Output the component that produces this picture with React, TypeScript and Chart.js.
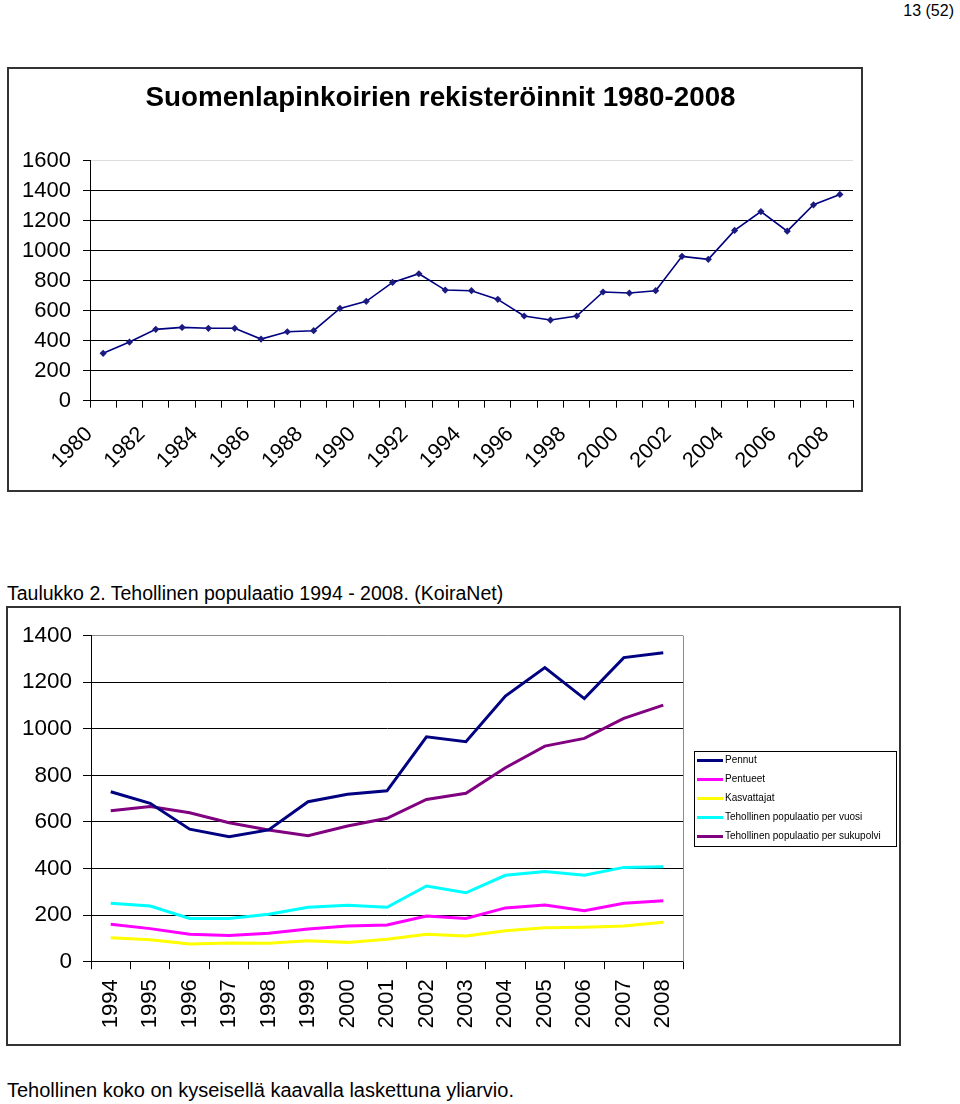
import React, { useEffect, useRef } from 'react';
import { Chart, registerables } from 'chart.js';

Chart.register(...registerables);

const FONT = '"Liberation Sans", Arial, Helvetica, sans-serif';

// ---- Chart 1: registrations 1980-2008 ----
const regTitle = 'Suomenlapinkoirien rekisteröinnit 1980-2008';
const regYears = [
  '1980', '1981', '1982', '1983', '1984', '1985', '1986', '1987', '1988', '1989',
  '1990', '1991', '1992', '1993', '1994', '1995', '1996', '1997', '1998', '1999',
  '2000', '2001', '2002', '2003', '2004', '2005', '2006', '2007', '2008',
];
const registrations = [
  316, 391, 476, 489, 483, 483, 411, 460, 467, 616,
  663, 789, 847, 738, 734, 676, 565, 538, 565, 725,
  718, 734, 963, 943, 1136, 1262, 1131, 1307, 1376,
];
const regYMax = 1600;
const regYStep = 200;

// ---- Chart 2: effective population 1994-2008 ----
const popYears = [
  '1994', '1995', '1996', '1997', '1998', '1999', '2000', '2001',
  '2002', '2003', '2004', '2005', '2006', '2007', '2008',
];
const pennut = [730, 680, 569, 537, 566, 687, 719, 734, 966, 945, 1141, 1263, 1130, 1306, 1327];
const pentueet = [161, 142, 118, 113, 122, 140, 153, 158, 196, 186, 231, 243, 219, 251, 262];
const kasvattajat = [103, 94, 76, 80, 79, 90, 83, 96, 118, 110, 133, 146, 148, 153, 169];
const perVuosi = [251, 239, 186, 186, 204, 234, 242, 234, 325, 296, 371, 387, 371, 405, 408];
const perSukupolvi = [648, 666, 640, 597, 566, 541, 583, 616, 697, 723, 833, 926, 959, 1045, 1102];
const seriesNames = [
  'Pennut',
  'Pentueet',
  'Kasvattajat',
  'Tehollinen populaatio per vuosi',
  'Tehollinen populaatio per sukupolvi',
];
const seriesColors = ['#000080', '#FF00FF', '#FFFF00', '#00FFFF', '#800080'];
const popYMax = 1400;
const popYStep = 200;

const pageNumber = '13 (52)';
const caption = 'Taulukko 2. Tehollinen populaatio 1994 - 2008. (KoiraNet)';
const footnote = 'Tehollinen koko on kyseisellä kaavalla laskettuna yliarvio.';

const plainNumber = (v: any) => String(v);

function RegChart() {
  const ref = useRef<HTMLCanvasElement | null>(null);
  useEffect(() => {
    const chart = new Chart(ref.current as HTMLCanvasElement, {
      type: 'line',
      data: {
        labels: regYears,
        datasets: [
          {
            label: 'Rekisteröinnit',
            data: registrations,
            borderColor: '#000080',
            backgroundColor: '#000080',
            borderWidth: 1.6,
            pointStyle: 'rectRot',
            pointRadius: 3.6,
            pointBorderWidth: 0,
            pointBackgroundColor: '#1a1a80',
            tension: 0,
          },
        ],
      },
      options: {
        responsive: false,
        animation: false,
        layout: { padding: { left: 11, right: 0, top: 0, bottom: 0 } },
        plugins: {
          legend: { display: false },
          tooltip: { enabled: false },
          title: {
            display: true,
            text: regTitle,
            color: '#000',
            font: { family: FONT, size: 27.8, weight: 'bold', lineHeight: 1.2 },
            padding: { top: 12.5, bottom: 46 },
          },
        },
        scales: {
          x: {
            type: 'category',
            offset: true,
            grid: { offset: true, drawOnChartArea: false, color: '#000', tickLength: 7 },
            border: { color: '#000', width: 1 },
            ticks: {
              autoSkip: false,
              minRotation: 45,
              maxRotation: 45,
              color: '#000',
              font: { family: FONT, size: 21.5 },
              padding: 14,
              labelOffset: -14,
              callback: function (this: any, v: any, i: number) {
                return i % 2 === 0 ? this.getLabelForValue(v) : '';
              },
            },
            afterFit: (s: any) => {
              s.height = 89.3;
              s.paddingLeft = 0;
              s.paddingRight = 8;
            },
          },
          y: {
            min: 0,
            max: regYMax,
            ticks: {
              stepSize: regYStep,
              color: '#000',
              font: { family: FONT, size: 22 },
              padding: 12,
              callback: plainNumber,
            },
            grid: {
              color: (ctx: any) => (ctx.tick && ctx.tick.value === regYMax ? '#dcdcdc' : '#000'),
              tickColor: '#000',
              tickLength: 7,
            },
            border: { color: '#000', width: 1 },
            afterFit: (s: any) => {
              s.width = 70;
              s.paddingTop = 0;
              s.paddingBottom = 0;
            },
          },
        },
      } as any,
    });
    return () => chart.destroy();
  }, []);
  return <canvas ref={ref} width={852} height={421} style={{ width: 852, height: 421, display: 'block' }} />;
}

const plotBorder = {
  id: 'plotBorder',
  beforeDatasetsDraw(chart: any) {
    const { ctx, chartArea } = chart;
    ctx.save();
    ctx.strokeStyle = '#8c8c8c';
    ctx.lineWidth = 1;
    ctx.beginPath();
    ctx.moveTo(Math.round(chartArea.right) + 0.5, chartArea.top);
    ctx.lineTo(Math.round(chartArea.right) + 0.5, chartArea.bottom);
    ctx.stroke();
    ctx.restore();
  },
};

const boxLegend = {
  id: 'boxLegend',
  afterDraw(chart: any) {
    const { ctx, chartArea } = chart;
    const w = 202;
    const h = 95;
    const left = Math.round(chartArea.right + 11);
    const top = Math.round((chartArea.top + chartArea.bottom) / 2 - h / 2);
    ctx.save();
    ctx.strokeStyle = '#000';
    ctx.lineWidth = 1;
    ctx.strokeRect(left + 0.5, top + 0.5, w, h);
    ctx.font = `10px ${FONT}`;
    ctx.textBaseline = 'middle';
    ctx.textAlign = 'left';
    chart.data.datasets.forEach((ds: any, i: number) => {
      const y = top + 9.5 + i * 19;
      ctx.strokeStyle = ds.borderColor;
      ctx.lineWidth = 3;
      ctx.beginPath();
      ctx.moveTo(left + 3, y);
      ctx.lineTo(left + 29, y);
      ctx.stroke();
      ctx.fillStyle = '#000';
      ctx.fillText(ds.label, left + 31, y);
    });
    ctx.restore();
  },
};

function PopChart() {
  const ref = useRef<HTMLCanvasElement | null>(null);
  useEffect(() => {
    const values = [pennut, pentueet, kasvattajat, perVuosi, perSukupolvi];
    const chart = new Chart(ref.current as HTMLCanvasElement, {
      type: 'line',
      data: {
        labels: popYears,
        datasets: values.map((d, i) => ({
          label: seriesNames[i],
          data: d,
          borderColor: seriesColors[i],
          backgroundColor: seriesColors[i],
          borderWidth: 3,
          pointRadius: 0,
          tension: 0,
        })),
      },
      options: {
        responsive: false,
        animation: false,
        layout: { padding: { left: 0, right: 216, top: 27.7, bottom: 0 } },
        plugins: {
          legend: { display: false },
          tooltip: { enabled: false },
          title: { display: false },
        },
        scales: {
          x: {
            type: 'category',
            offset: true,
            grid: { offset: true, drawOnChartArea: false, color: '#000', tickLength: 7.5 },
            border: { color: '#000', width: 1 },
            ticks: {
              autoSkip: false,
              minRotation: 90,
              maxRotation: 90,
              color: '#000',
              font: { family: FONT, size: 22 },
              padding: 10,
            },
            afterFit: (s: any) => {
              s.height = 82.3;
            },
          },
          y: {
            min: 0,
            max: popYMax,
            ticks: {
              stepSize: popYStep,
              color: '#000',
              font: { family: FONT, size: 22.5 },
              padding: 11,
              callback: plainNumber,
            },
            grid: {
              color: (ctx: any) => (ctx.tick && ctx.tick.value === popYMax ? '#8c8c8c' : '#000'),
              tickColor: '#000',
              tickLength: 8,
            },
            border: { color: '#000', width: 1 },
            afterFit: (s: any) => {
              s.width = 83;
            },
          },
        },
      } as any,
      plugins: [plotBorder, boxLegend],
    });
    return () => chart.destroy();
  }, []);
  return <canvas ref={ref} width={891} height={436} style={{ width: 891, height: 436, display: 'block' }} />;
}

export default function App() {
  const text: React.CSSProperties = {
    position: 'absolute',
    fontFamily: FONT,
    color: '#000',
    lineHeight: 1,
    whiteSpace: 'nowrap',
    margin: 0,
  };
  return (
    <>
      <div style={{ ...text, top: 3, right: 6, fontSize: 16 }}>{pageNumber}</div>
      <div
        style={{
          position: 'absolute',
          left: 7,
          top: 67,
          width: 856,
          height: 425,
          boxSizing: 'border-box',
          border: '2px solid #333',
          background: '#fff',
        }}
      >
        <RegChart />
      </div>
      <div style={{ ...text, left: 7, top: 583.5, fontSize: 19.5 }}>{caption}</div>
      <div
        style={{
          position: 'absolute',
          left: 6,
          top: 606,
          width: 895,
          height: 440,
          boxSizing: 'border-box',
          border: '2px solid #333',
          background: '#fff',
        }}
      >
        <PopChart />
      </div>
      <div style={{ ...text, left: 7, top: 1080, fontSize: 20 }}>{footnote}</div>
    </>
  );
}
